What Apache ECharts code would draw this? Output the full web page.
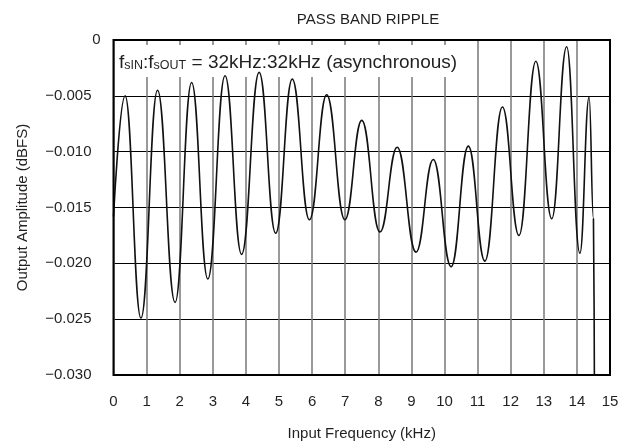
<!DOCTYPE html>
<html>
<head>
<meta charset="utf-8">
<script src="https://cdn.jsdelivr.net/npm/echarts@6/dist/echarts.min.js"></script>
<style>
html,body{margin:0;padding:0;background:#fff;}
#c{width:628px;height:447px;}
</style>
</head>
<body>
<div id="c"></div>
<script>
// Data (kHz, dBFS)
var freqKHz = [0, 0.35, 0.83, 1.33, 1.86, 2.36, 2.85, 3.37, 3.87, 4.40, 4.90, 5.40, 5.92, 6.44, 6.99, 7.50, 8.05, 8.57, 9.14, 9.66, 10.20, 10.72, 11.22, 11.75, 12.25, 12.76, 13.24, 13.69, 14.09, 14.37, 14.50, 14.53];
var amplitude = [-0.0158, -0.0050, -0.0249, -0.0045, -0.0235, -0.0038, -0.0214, -0.0032, -0.0192, -0.0029, -0.0173, -0.0035, -0.0161, -0.0049, -0.0161, -0.0072, -0.0172, -0.0096, -0.0190, -0.0107, -0.0203, -0.0095, -0.0198, -0.0060, -0.0175, -0.0019, -0.0160, -0.0006, -0.0191, -0.0051, -0.0160, -0.0320];
var xTicks = [0, 15, 1];          // min, max, interval
var yTicks = [-0.030, 0, 0.005];  // min, max, interval

var seriesData = freqKHz.map(function (f, i) { return [f, amplitude[i]]; });
var FONT = 'Liberation Sans, Arial, sans-serif';
var TXT = '#231f20';

var chart = echarts.init(document.getElementById('c'), null, {renderer: 'canvas'});
chart.setOption({
  animation: false,
  backgroundColor: '#fff',
  grid: {left: 113.5, right: 18, top: 40, bottom: 72, show: true, borderColor: '#000', borderWidth: 2, backgroundColor: 'transparent', z: 3},
  xAxis: {
    type: 'value', min: xTicks[0], max: xTicks[1], interval: xTicks[2],
    name: 'Input Frequency (kHz)', nameLocation: 'middle', nameGap: 51,
    nameTextStyle: {fontFamily: FONT, fontSize: 15, color: TXT},
    axisLine: {show: false}, axisTick: {show: false},
    axisLabel: {margin: 19, fontFamily: FONT, fontSize: 15, color: TXT},
    splitLine: {show: true, lineStyle: {color: '#777', width: 1.5}}
  },
  yAxis: {
    type: 'value', min: yTicks[0], max: yTicks[1], interval: yTicks[2],
    name: 'Output Amplitude (dBFS)', nameLocation: 'middle', nameGap: 83,
    nameTextStyle: {fontFamily: FONT, fontSize: 15, color: TXT},
    axisLine: {show: false}, axisTick: {show: false},
    axisLabel: {
      margin: 13, fontFamily: FONT, fontSize: 15, color: TXT,
      formatter: function (v) {
        if (Math.abs(v) < 1e-9) return '{z|0}';
        return '{n|\u2212' + Math.abs(v).toFixed(3) + '}';
      },
      rich: {
        z: {fontFamily: FONT, fontSize: 15, color: TXT},
        n: {fontFamily: FONT, fontSize: 15, color: TXT, padding: [0, 9, 0, 0]}
      }
    },
    splitLine: {show: true, lineStyle: {color: '#000', width: 1}}
  },
  graphic: [
    {type: 'text', z: 10, x: 368, y: 20, style: {text: 'PASS BAND RIPPLE', align: 'center', verticalAlign: 'middle', fontFamily: FONT, fontSize: 15, fill: TXT}},
    {type: 'rect', z: 1, shape: {x: 115, y: 45, width: 346, height: 32}, style: {fill: '#fff'}},
    {type: 'text', z: 10, x: 119, y: 47, style: {
      text: '{a|f}{s|sIN}{a|:f}{s|sOUT}{a| = 32kHz:32kHz (asynchronous)}',
      rich: {
        a: {fontFamily: FONT, fontSize: 19, lineHeight: 25, verticalAlign: 'bottom', fill: TXT, color: TXT},
        s: {fontFamily: FONT, fontSize: 12.5, lineHeight: 12, verticalAlign: 'bottom', fill: TXT, color: TXT}
      },
      verticalAlign: 'top', align: 'left'
    }}
  ],
  series: [{
    type: 'line', data: seriesData, smooth: 0.45, smoothMonotone: 'x', symbol: 'none', clip: true, z: 2,
    lineStyle: {color: '#111', width: 1.6}
  }]
});
</script>
</body>
</html>
